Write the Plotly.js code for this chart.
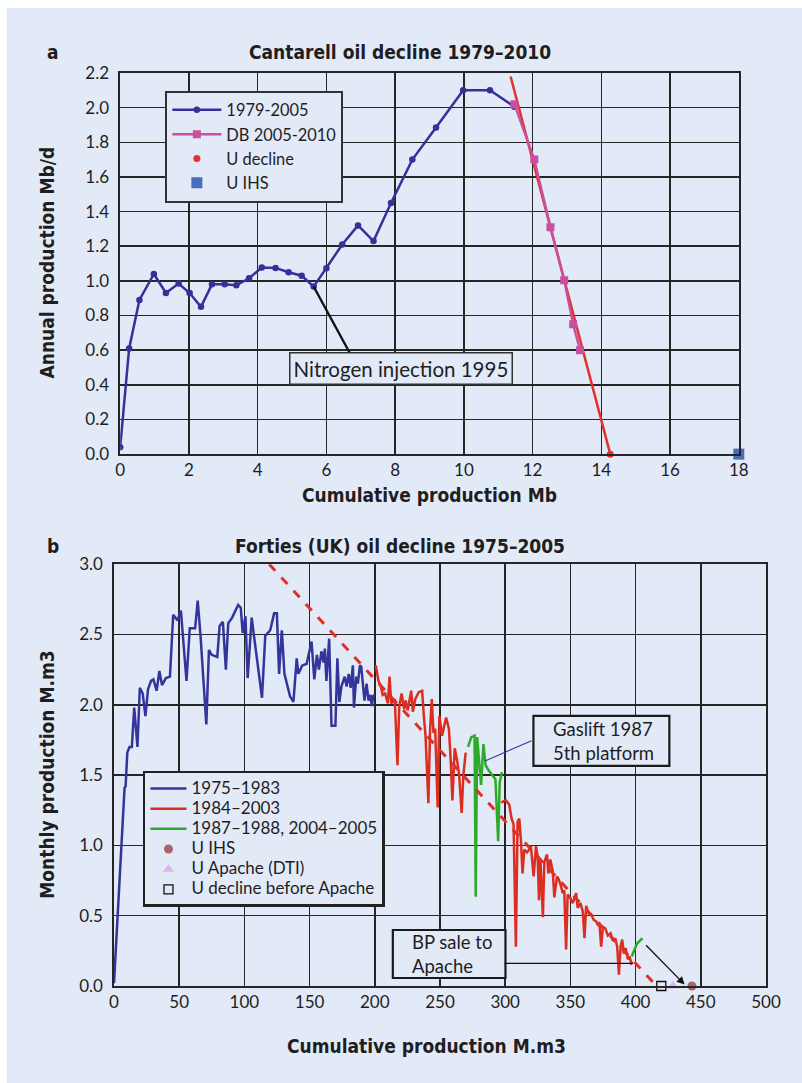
<!DOCTYPE html>
<html>
<head>
<meta charset="utf-8">
<script src="https://cdn.plot.ly/plotly-3.0.1.min.js"></script>
<style>
  html, body { margin: 0; padding: 0; background: #ffffff; }
  #chart { position: absolute; left: 7px; top: 8px; width: 795px; height: 1075px; }
</style>
</head>
<body>
<div id="chart"></div>
<script>
// ---------- Panel a: Cantarell ----------
const cantCum  = [0, 0.26, 0.56, 0.98, 1.33, 1.70, 2.02, 2.35, 2.67, 3.04, 3.38, 3.75, 4.12, 4.52, 4.90, 5.28, 5.63, 6.00, 6.46, 6.92, 7.37, 7.88, 8.50, 9.19, 9.98, 10.76, 11.47];
const cantProd = [0.04, 0.61, 0.89, 1.04, 0.93, 0.985, 0.93, 0.85, 0.98, 0.98, 0.975, 1.015, 1.077, 1.075, 1.05, 1.03, 0.967, 1.073, 1.21, 1.32, 1.23, 1.45, 1.70, 1.885, 2.10, 2.10, 2.005];
const dbCum  = [11.47, 12.05, 12.52, 12.92, 13.18, 13.38];
const dbProd = [2.02, 1.70, 1.31, 1.004, 0.75, 0.60];
const cantFitX = [11.36, 14.26];
const cantFitY = [2.18, 0];
const cantUDecline = {x: [14.26], y: [0]};
const cantUIHS = {x: [18], y: [0]};
const cantNames = ['1979-2005', 'DB 2005-2010', 'U decline', 'U IHS'];

// ---------- Panel b: Forties ----------
const fBlueX = [0, 8.1, 8.9, 10.2, 11.9, 13.7, 15.5, 18.0, 19.8, 22.0, 24.1, 26.1, 28.4, 30.2, 32.7, 34.8, 36.8, 39.8, 42.9, 45.4, 48.7, 51.3, 55.6, 58.1, 62.2, 64.2, 66.5, 70.8, 72.8, 74.9, 79.2, 81.0, 83.5, 85.8, 87.6, 90.6, 95.2, 97.2, 98.7, 100.8, 102.5, 105.6, 107.9, 113.5, 116.0, 119.8, 122.8, 124.9, 126.6, 128.7, 130.7, 135.0, 137.6, 140.1, 141.4, 144.4, 147.7, 149.7, 151.5, 153.6, 155.6, 157.1, 159.1, 160.7, 161.7, 162.9, 165.0, 166.8, 169.8, 171.3, 172.8, 174.4, 176.9, 178.4, 180.0, 181.5, 183.2, 184.0, 185.8, 187.0, 188.6, 189.6, 190.9, 192.1, 193.7, 195.2, 196.7, 197.7, 198.7, 199.7];
const fBlueY = [0.02, 1.41, 1.42, 1.66, 1.70, 1.70, 1.98, 1.70, 2.12, 2.08, 1.92, 2.11, 2.17, 2.18, 2.10, 2.24, 2.14, 2.19, 2.20, 2.64, 2.60, 2.67, 2.17, 2.545, 2.545, 2.74, 2.47, 1.86, 2.39, 2.355, 2.34, 2.56, 2.59, 2.25, 2.58, 2.62, 2.71, 2.69, 2.51, 2.63, 2.19, 2.62, 2.45, 2.05, 2.49, 2.53, 2.65, 2.65, 2.22, 2.53, 2.22, 2.06, 2.02, 2.33, 2.22, 2.28, 2.29, 2.37, 2.45, 2.18, 2.355, 2.25, 2.38, 2.30, 2.40, 2.17, 2.47, 1.85, 1.85, 2.33, 2.02, 2.13, 2.20, 2.13, 2.22, 2.12, 2.28, 1.98, 2.20, 2.15, 2.28, 2.27, 2.15, 2.03, 2.15, 2.03, 2.07, 1.99, 2.06, 2.07];

const fRedX = [200.8, 202.8, 204.7, 206.1, 207.9, 210.0, 211.3, 212.6, 215.3, 217.4, 218.7, 220.5, 222.6, 223.7, 225.3, 227.9, 229.2, 231.0, 233.7, 236.3, 237.6, 238.9, 241.1, 242.4, 243.7, 245.0, 246.3, 248.2, 249.5, 251.6, 254.7, 256.8, 258.2, 259.5, 261.3, 263.2, 264.7, 266.6, 267.9, 269.7, null,
  297.0, 300.5, 303.1, 304.9, 306.4, 308.2, 309.5, 310.8, 312.1, 313.3, 314.6, 316.7, 318.5, 319.7, 321.8, 323.6, 324.9, 325.9, 327.0, 328.9, 330.0, 332.1, 333.1, 334.6, 336.4, 337.7, 339.7, 341.0, 342.8, 344.1, 345.3, 346.7, 347.9, 349.7, 351.8, 354.4, 355.6, 357.7, 359.5, 360.8, 362.1, 363.8, 365.9, 367.9, 369.7, 371.0, 372.3, 373.6, 374.9, 376.7, 378.7, 380.8, 382.6, 384.4, 385.9, 387.2, 388.5, 389.7, 391.0, 392.3, 394.1, 395.4, 396.7, 397.9];
const fRedY = [2.28, 2.17, 2.13, 2.07, 2.08, 2.01, 2.20, 2.01, 2.04, 1.57, 1.98, 2.08, 1.97, 2.03, 1.96, 2.10, 1.95, 2.04, 2.09, 2.10, 1.92, 1.78, 1.30, 1.82, 2.04, 1.80, 1.83, 1.27, 1.92, 1.78, 1.91, 1.83, 1.61, 1.32, 1.69, 1.60, 1.50, 1.23, 1.50, 1.66, null,
  1.305, 1.32, 1.29, 1.19, 1.15, 0.28, 1.17, 1.19, 1.03, 0.80, 0.97, 0.95, 0.97, 0.995, 0.78, 0.995, 0.92, 0.61, 0.90, 0.49, 0.88, 0.935, 0.80, 0.90, 0.82, 0.63, 0.78, 0.76, 0.71, 0.66, 0.68, 0.26, 0.65, 0.63, 0.59, 0.66, 0.555, 0.59, 0.53, 0.34, 0.57, 0.52, 0.51, 0.47, 0.46, 0.435, 0.44, 0.28, 0.42, 0.41, 0.36, 0.375, 0.32, 0.34, 0.28, 0.08, 0.28, 0.33, 0.23, 0.27, 0.19, 0.21, 0.16, 0.17];

const fGreenX = [271.5, 274.0, 276.5, 277.4, 278.5, 280.2, 281.5, 283.3, 285.0, 287.5, 290.3, 292.5, 294.6, 295.8, 297.5, null, 397.0, 401.0, 405.3];
const fGreenY = [1.70, 1.77, 1.78, 0.635, 1.77, 1.60, 1.43, 1.72, 1.57, 1.53, 1.50, 1.47, 1.03, 1.45, 1.52, null, 0.21, 0.30, 0.34];

const fFitX = [119, 416];
const fFitY = [3.0, 0];
const fUIHS = {x: [443.2], y: [0]};
const fUApache = {x: [428.6], y: [0]};
const fUBefore = {x: [419.7], y: [0]};
const fNames = ['1975–1983', '1984–2003', '1987–1988, 2004–2005', 'U IHS', 'U Apache (DTI)', 'U decline before Apache'];

// ---------- styling ----------
const BG = '#e2e9f7';
const REG = 'Lato, "Open Sans", sans-serif';
const TICKFONT = {family: REG, size: 17, color: '#1e1e1e'};
const BOLDFONT = {family: '"Liberation Sans Narrow", "DejaVu Sans Condensed", "Arial Narrow", sans-serif', size: 19, color: '#1e1e1e', weight: 'bold'};
const GRID = '#262626';
const big = (s, sz) => '<span style="font-size:' + sz + 'px">' + s + '</span>';

// plot-area (paper) helpers from page pixels
const PL = 114.3, PW = 652.4, PB = 986, PH = 912.7;
const px = v => (v - PL) / PW;
const py = v => (PB - v) / PH;

function axisBase(extra) {
  return Object.assign({
    showgrid: true, gridcolor: GRID, gridwidth: 1.5,
    showline: true, linecolor: GRID, linewidth: 1.7, mirror: true,
    zeroline: false, ticks: '', tickfont: TICKFONT, fixedrange: true
  }, extra);
}

const traces = [
  {x: cantCum, y: cantProd, name: cantNames[0], mode: 'lines+markers', xaxis: 'x', yaxis: 'y', legend: 'legend',
   line: {color: '#35309a', width: 2.5}, marker: {color: '#35309a', size: 6.5}},
  {x: cantFitX, y: cantFitY, mode: 'lines', showlegend: false, xaxis: 'x', yaxis: 'y',
   line: {color: '#e3322d', width: 2.5}},
  {x: dbCum, y: dbProd, name: cantNames[1], mode: 'lines+markers', xaxis: 'x', yaxis: 'y', legend: 'legend',
   line: {color: '#c8519f', width: 2.5}, marker: {color: '#c8519f', size: 8, symbol: 'square'}},
  {x: cantUDecline.x, y: cantUDecline.y, name: cantNames[2], mode: 'markers', xaxis: 'x', yaxis: 'y', legend: 'legend',
   cliponaxis: false, marker: {color: '#e3322d', size: 7}},
  {x: cantUIHS.x, y: cantUIHS.y, name: cantNames[3], mode: 'markers', xaxis: 'x', yaxis: 'y', legend: 'legend',
   cliponaxis: false, marker: {color: '#4a6cbd', size: 11, symbol: 'square'}},

  {x: fBlueX, y: fBlueY, name: big(fNames[0], 17), mode: 'lines', xaxis: 'x2', yaxis: 'y2', legend: 'legend2',
   line: {color: '#34359b', width: 2.5}},
  {x: fRedX, y: fRedY, name: big(fNames[1], 17), mode: 'lines', xaxis: 'x2', yaxis: 'y2', legend: 'legend2',
   line: {color: '#dc2e20', width: 2.5}},
  {x: fGreenX, y: fGreenY, name: big(fNames[2], 17), mode: 'lines', xaxis: 'x2', yaxis: 'y2', legend: 'legend2',
   line: {color: '#2eaa2a', width: 2.5}},
  {x: fFitX, y: fFitY, mode: 'lines', showlegend: false, xaxis: 'x2', yaxis: 'y2',
   line: {color: '#e0302a', width: 3, dash: 'dash'}},
  {x: fUIHS.x, y: fUIHS.y, name: big(fNames[3], 17), mode: 'markers', xaxis: 'x2', yaxis: 'y2', legend: 'legend2',
   cliponaxis: false, marker: {color: '#a8636f', size: 9}},
  {x: fUApache.x, y: fUApache.y, name: big(fNames[4], 17), mode: 'markers', xaxis: 'x2', yaxis: 'y2', legend: 'legend2',
   cliponaxis: false, marker: {color: '#dcb4ec', size: 10, symbol: 'triangle-up'}},
  {x: fUBefore.x, y: fUBefore.y, name: big(fNames[5], 17), mode: 'markers', xaxis: 'x2', yaxis: 'y2', legend: 'legend2',
   cliponaxis: false, marker: {color: '#111111', size: 9, symbol: 'square-open', line: {width: 1.3}}}
];

const layout = {
  width: 795, height: 1075,
  margin: {l: 107.3, r: 35.6, t: 65.3, b: 97},
  paper_bgcolor: BG, plot_bgcolor: BG,
  showlegend: true,
  xaxis: axisBase({domain: [px(120.5), px(739.5)], range: [0, 18], dtick: 2, tick0: 0, anchor: 'y'}),
  yaxis: axisBase({domain: [py(454.3), 1], range: [0, 2.2], dtick: 0.2, tick0: 0, tickformat: '.1f', anchor: 'x', ticklabelstandoff: 6}),
  xaxis2: axisBase({domain: [0, 1], range: [0, 500], dtick: 50, tick0: 0, anchor: 'y2'}),
  yaxis2: axisBase({domain: [0, py(564.3)], range: [0, 3], dtick: 0.5, tick0: 0, tickformat: '.1f', anchor: 'x2', ticklabelstandoff: 6}),
  legend: {x: px(165.7), y: py(91), xanchor: 'left', yanchor: 'top', bgcolor: BG, bordercolor: '#333', borderwidth: 2,
           font: {family: REG, size: 16.4, color: '#1e1e1e'}, itemwidth: 49, tracegroupgap: 0},
  legend2: {x: px(143.3), y: py(771), xanchor: 'left', yanchor: 'top', bgcolor: BG, bordercolor: '#222', borderwidth: 2.5,
            font: {family: REG, size: 13.2, color: '#1e1e1e'}, itemwidth: 36, tracegroupgap: 0},
  shapes: [
    {type: 'rect', xref: 'paper', yref: 'paper', x0: px(534), x1: px(670), y0: py(716), y1: py(766),
     fillcolor: BG, line: {color: '#1a1a1a', width: 2.2}, layer: 'above'},
    {type: 'rect', xref: 'paper', yref: 'paper', x0: px(393.3), x1: px(506), y0: py(930), y1: py(978),
     fillcolor: BG, line: {color: '#1a1a1a', width: 2.2}, layer: 'above'}
  ],
  annotations: [
    // panel titles
    {xref: 'paper', yref: 'paper', x: px(45), y: py(52), text: 'a', showarrow: false, xanchor: 'left', yanchor: 'middle', font: BOLDFONT},
    {xref: 'paper', yref: 'paper', x: px(400), y: py(52), text: 'Cantarell oil decline 1979–2010', showarrow: false, xanchor: 'center', yanchor: 'middle', font: BOLDFONT},
    {xref: 'paper', yref: 'paper', x: px(45), y: py(546), text: 'b', showarrow: false, xanchor: 'left', yanchor: 'middle', font: BOLDFONT},
    {xref: 'paper', yref: 'paper', x: px(400), y: py(546), text: 'Forties (UK) oil decline 1975–2005', showarrow: false, xanchor: 'center', yanchor: 'middle', font: BOLDFONT},
    // axis titles
    {xref: 'paper', yref: 'paper', x: px(430), y: py(495), text: 'Cumulative production Mb', showarrow: false, xanchor: 'center', yanchor: 'middle', font: BOLDFONT},
    {xref: 'paper', yref: 'paper', x: px(47), y: py(263), text: 'Annual production Mb/d', showarrow: false, textangle: -90, xanchor: 'center', yanchor: 'middle', font: BOLDFONT},
    {xref: 'paper', yref: 'paper', x: px(427), y: py(1046), text: 'Cumulative production M.m3', showarrow: false, xanchor: 'center', yanchor: 'middle', font: BOLDFONT},
    {xref: 'paper', yref: 'paper', x: px(47), y: py(775), text: 'Monthly production M.m3', showarrow: false, textangle: -90, xanchor: 'center', yanchor: 'middle', font: BOLDFONT},
    // Nitrogen injection
    {xref: 'x', yref: 'y', x: 5.63, y: 0.967, ax: 37, ay: 68, text: '', showarrow: true, arrowhead: 0, arrowwidth: 2.2, arrowcolor: '#111'},
    {xref: 'paper', yref: 'paper', x: px(401.5), y: py(369), text: 'Nitrogen injection 1995', showarrow: false, xanchor: 'center', yanchor: 'middle',
     bgcolor: BG, bordercolor: '#333', borderwidth: 1.5, borderpad: 3, font: {family: REG, size: 20.5, color: '#1e1e1e'}},
    // Gaslift
    {xref: 'x2', yref: 'y2', x: 284.5, y: 1.6, ax: 48, ay: -21, text: '', showarrow: true, arrowhead: 0, arrowwidth: 1.2, arrowcolor: '#3a3aa6'},
    {xref: 'paper', yref: 'paper', x: px(552), y: py(741), text: 'Gaslift 1987<br>5th platform', showarrow: false, xanchor: 'left', yanchor: 'middle', align: 'left',
     font: {family: REG, size: 18.5, color: '#1e1e1e'}},
    // BP sale
    {xref: 'x2', yref: 'y2', x: 398, y: 0.161, ax: -130, ay: 0, text: '', showarrow: true, arrowhead: 0, arrowwidth: 1.1, arrowcolor: '#111'},
    {xref: 'paper', yref: 'paper', x: px(410), y: py(954), text: 'BP sale to<br>Apache', showarrow: false, xanchor: 'left', yanchor: 'middle', align: 'left',
     font: {family: REG, size: 18.5, color: '#1e1e1e'}},
    // arrow to U IHS
    {xref: 'x2', yref: 'y2', axref: 'x2', ayref: 'y2', x: 437.6, y: 0.01, ax: 406.9, ay: 0.30, text: '', showarrow: true,
     arrowhead: 2, arrowsize: 1.2, arrowwidth: 1.3, arrowcolor: '#111'}
  ]
};

Plotly.newPlot('chart', traces, layout, {displayModeBar: false, staticPlot: true});
</script>
</body>
</html>
